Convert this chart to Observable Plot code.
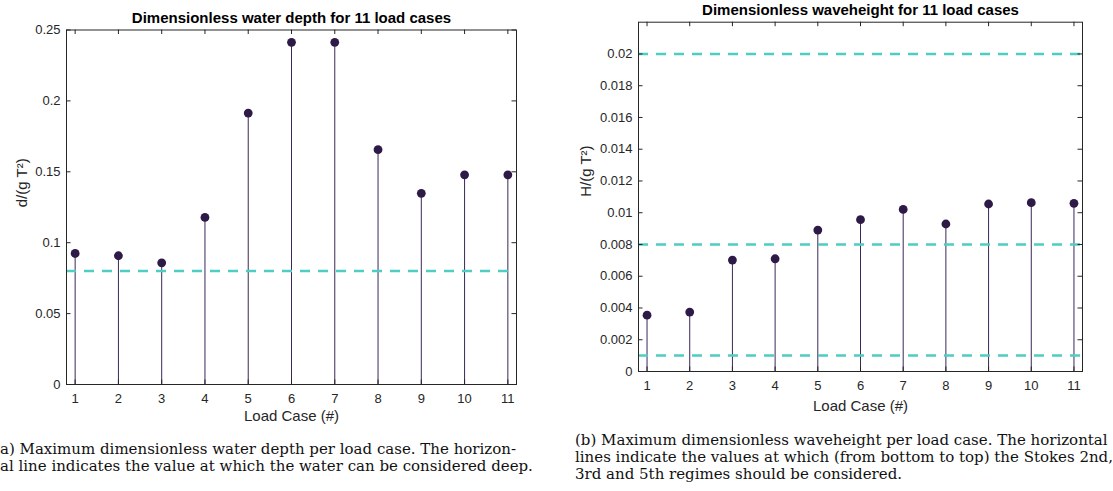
<!DOCTYPE html>
<html><head><meta charset="utf-8">
<script src="https://cdn.jsdelivr.net/npm/d3@7"></script>
<script src="https://cdn.jsdelivr.net/npm/@observablehq/plot@0.6"></script>
<style>
body{margin:0;background:#fff;width:1113px;height:491px;overflow:hidden;position:relative;}
.panel{position:absolute;top:0;}
.cap{position:absolute;font-family:"DejaVu Serif",serif;font-size:15px;color:#111;white-space:nowrap;line-height:17px;}
</style></head><body>
<div id="left" class="panel" style="left:0"></div>
<div id="right" class="panel" style="left:557px"></div>
<div class="cap" id="capA" style="left:0;top:441px"></div>
<div class="cap" id="capB" style="left:575px;top:432px"></div>
<script>
const loadCases = [1, 2, 3, 4, 5, 6, 7, 8, 9, 10, 11];
const depth = [0.0924, 0.0908, 0.0858, 0.1178, 0.1914, 0.2413, 0.2413, 0.1656, 0.1348, 0.1479, 0.1479];
const waveHeight = [0.00355, 0.00374, 0.00702, 0.00710, 0.00891, 0.00956, 0.01021, 0.00929, 0.01055, 0.01063, 0.01059];
const depthTicks = [0, 0.05, 0.1, 0.15, 0.2, 0.25];
const heightTicks = [0, 0.002, 0.004, 0.006, 0.008, 0.01, 0.012, 0.014, 0.016, 0.018, 0.02];
const deepWaterLimit = [0.08];
const stokesLimits = [0.001, 0.008, 0.02];
const titleA = "Dimensionless water depth for 11 load cases";
const titleB = "Dimensionless waveheight for 11 load cases";
const yLabelA = "d/(g T²)";
const yLabelB = "H/(g T²)";
const xLabel = "Load Case (#)";
const captionA = ["a) Maximum dimensionless water depth per load case. The horizon-",
  "al line indicates the value at which the water can be considered deep."];
const captionB = ["(b) Maximum dimensionless waveheight per load case. The horizontal",
  "lines indicate the values at which (from bottom to top) the Stokes 2nd,",
  "3rd and 5th regimes should be considered."];

const axisColor = "#262626", stemColor = "#3a2858", dotColor = "#2d1a47", turq = "#4ecdc4";
const sans = "'Liberation Sans', Arial, Helvetica, sans-serif";

function panel(o) {
  const data = loadCases.map((c, i) => ({c, v: o.values[i]}));
  const W = o.width - o.mL - o.mR, H = o.height - o.mT - o.mB;
  const tk = 4.5;
  return Plot.plot({
    width: o.width, height: o.height,
    marginLeft: o.mL, marginRight: o.mR, marginTop: o.mT, marginBottom: o.mB,
    style: {fontFamily: sans, fontSize: "13px", color: axisColor, background: "white"},
    x: {type: "linear", domain: [0.8, 11.2]},
    y: {type: "linear", domain: o.yDomain},
    marks: [
      Plot.ruleX(data, {x: "c", y1: 0, y2: "v", stroke: stemColor, strokeWidth: 1}),
      Plot.ruleY(o.lines, {y: d => d, stroke: turq, strokeWidth: 2.5, strokeDasharray: "10,8"}),
      Plot.dot(data, {x: "c", y: "v", r: 4.4, fill: dotColor, stroke: null}),
      Plot.axisX({ticks: loadCases, tickFormat: d => `${d}`, tickSize: 0, tickPadding: 9.5, label: null, fontSize: 13, fontFamily: sans, fill: axisColor}),
      Plot.axisY({ticks: o.yTicks, tickFormat: d => `${d}`, tickSize: 0, tickPadding: 6, label: null, fontSize: 13, fontFamily: sans, fill: axisColor}),
      Plot.tickX(loadCases, {x: d => d, insetBottom: H - tk, stroke: axisColor}),
      Plot.tickX(loadCases, {x: d => d, insetTop: H - tk, stroke: axisColor}),
      Plot.tickY(o.yTicks, {y: d => d, insetRight: W - tk, stroke: axisColor}),
      Plot.tickY(o.yTicks, {y: d => d, insetLeft: W - tk, stroke: axisColor}),
      Plot.frame({stroke: axisColor}),
      Plot.text([o.title], {frameAnchor: "top", lineAnchor: "middle", dy: o.titleDy, text: d => d, fontWeight: "bold", fontSize: 15, fontFamily: sans, fill: "#000"}),
      Plot.text([o.ylabel], {frameAnchor: "left", lineAnchor: "middle", dx: o.ylabelDx, rotate: -90, text: d => d, fontSize: 15, fontFamily: sans, fill: axisColor}),
      Plot.text([xLabel], {frameAnchor: "bottom", lineAnchor: "middle", dy: o.xlabelDy, text: d => d, fontSize: 15, fontFamily: sans, fill: axisColor})
    ]
  });
}

document.getElementById("left").append(panel({
  values: depth, yDomain: [0, 0.25], yTicks: depthTicks, lines: deepWaterLimit,
  title: titleA, ylabel: yLabelA,
  width: 556, height: 430, mL: 66, mR: 40, mT: 29.5, mB: 46,
  titleDy: -11.5, ylabelDx: -44, xlabelDy: 32
}));
document.getElementById("right").append(panel({
  values: waveHeight, yDomain: [0, 0.022], yTicks: heightTicks, lines: stokesLimits,
  title: titleB, ylabel: yLabelB,
  width: 556, height: 430, mL: 81, mR: 31, mT: 21.7, mB: 59,
  titleDy: -11.7, ylabelDx: -52.6, xlabelDy: 35
}));
for (const [id, lines] of [["capA", captionA], ["capB", captionB]]) {
  const el = document.getElementById(id);
  for (const l of lines) { const d = document.createElement("div"); d.textContent = l; el.append(d); }
}
</script>
</body></html>
